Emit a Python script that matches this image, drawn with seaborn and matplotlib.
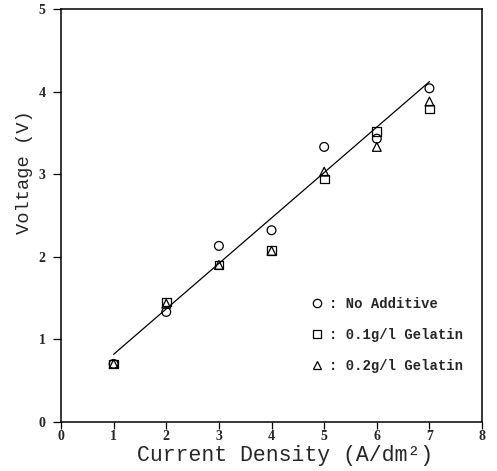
import numpy as np
import pandas as pd
import matplotlib
matplotlib.use("Agg")
import matplotlib.pyplot as plt
import seaborn as sns

# data
current_density = [1, 2, 3, 4, 5, 6, 7]
v_no_additive = [0.70, 1.33, 2.13, 2.32, 3.33, 3.43, 4.04]
v_gelatin_01 = [0.70, 1.45, 1.90, 2.07, 2.94, 3.52, 3.79]
v_gelatin_02 = [0.70, 1.43, 1.90, 2.07, 3.03, 3.33, 3.88]
labels = [": No Additive", ": 0.1g/l Gelatin", ": 0.2g/l Gelatin"]

df = pd.DataFrame({
    "cd": current_density * 3,
    "v": v_no_additive + v_gelatin_01 + v_gelatin_02,
    "series": [labels[0]] * 7 + [labels[1]] * 7 + [labels[2]] * 7,
})

sns.set_style("ticks")
plt.rcParams["font.family"] = ["Liberation Serif", "DejaVu Serif"]
mono = ["Liberation Mono", "DejaVu Sans Mono"]

fig = plt.figure(figsize=(4.97, 4.71), dpi=100)
ax = fig.add_axes([0.1227, 0.1047, 0.8473, 0.876])

# fitted line through the no-additive points
sns.regplot(x=current_density, y=v_no_additive, ax=ax, scatter=False, ci=None,
            truncate=True, line_kws={"color": "black", "lw": 0.9})

sns.scatterplot(data=df, x="cd", y="v", style="series", ax=ax,
                markers={labels[0]: "o", labels[1]: "s", labels[2]: "^"},
                s=40, facecolor="none", edgecolor="black", linewidth=0.9,
                color="black", legend=True)

ax.set_xlim(0, 8)
ax.set_ylim(0, 5)
ax.set_xticks(range(0, 9))
ax.set_yticks(range(0, 6))
ax.tick_params(axis="x", direction="out", length=5, width=0.9, labelsize=10, pad=1, color="black")
ax.tick_params(axis="y", direction="out", length=6, width=0.9, labelsize=10, pad=5, color="black")
for lab in ax.get_xticklabels() + ax.get_yticklabels():
    lab.set_fontweight("bold")
for sp in ax.spines.values():
    sp.set_color("black")
    sp.set_linewidth(1.1)

ax.set_xlabel("Current Density (A/dm²)", family=mono, fontsize=15.5)
ax.set_ylabel("Voltage (V)", family=mono, fontsize=13.5)
ax.xaxis.set_label_coords(0.532, -0.081)
ax.xaxis.label.set_va("center")
ax.yaxis.set_label_coords(-0.0855, 0.605)
ax.yaxis.label.set_va("center")

handles, leg_labels = ax.get_legend_handles_labels()
for h in handles:
    h.set_markerfacecolor("none")
    h.set_markeredgecolor("black")
    h.set_markersize(6)
ax.legend(handles, leg_labels, loc="center left", bbox_to_anchor=(0.588, 0.21),
          frameon=False, borderpad=0, borderaxespad=0, handletextpad=0.25,
          labelspacing=1.24, handlelength=1.2,
          prop={"family": "Liberation Mono", "weight": "bold", "size": 10})

fig.savefig("out.png", dpi=100, facecolor="white")
